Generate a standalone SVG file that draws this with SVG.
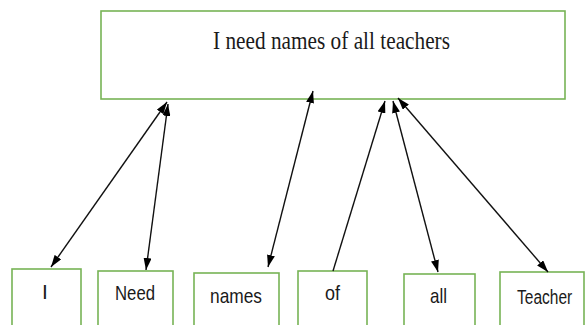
<svg xmlns="http://www.w3.org/2000/svg" width="586" height="325" viewBox="0 0 586 325">
<style>
.box{fill:#fff;stroke:#77b355;stroke-width:1.6}
.lbl{font-family:"Liberation Sans",Arial,sans-serif;font-size:21px;fill:#1a1a1a}
.ttl{font-family:"Liberation Serif","Times New Roman",serif;font-size:26px;fill:#1a1a1a}
.conn{stroke:#111;stroke-width:1.4;fill:none}
</style>
<defs>
<marker id="ah" viewBox="0 0 12 8" refX="12" refY="4" markerWidth="12" markerHeight="8" markerUnits="userSpaceOnUse" orient="auto-start-reverse">
<path d="M0,0 L12,4 L0,8 Z" fill="#000"/>
</marker>
</defs>
<rect width="586" height="325" fill="#fff"/>
<g id="sentence">
<rect class="box" x="101" y="11" width="464" height="88"/>
<text class="ttl" x="213" y="49" textLength="237" lengthAdjust="spacingAndGlyphs">I need names of all teachers</text>
</g>
<g id="w-I">
<rect class="box" x="12" y="269" width="69" height="70"/>
<text class="lbl" x="45" y="299" text-anchor="middle">I</text>
</g>
<g id="w-Need">
<rect class="box" x="98" y="271" width="75" height="70"/>
<text class="lbl" x="115" y="300" textLength="40" lengthAdjust="spacingAndGlyphs">Need</text>
</g>
<g id="w-names">
<rect class="box" x="194" y="273" width="85" height="70"/>
<text class="lbl" x="210" y="303" textLength="52" lengthAdjust="spacingAndGlyphs">names</text>
</g>
<g id="w-of">
<rect class="box" x="298" y="271" width="69" height="70"/>
<text class="lbl" x="325" y="300" textLength="15" lengthAdjust="spacingAndGlyphs">of</text>
</g>
<g id="w-all">
<rect class="box" x="404" y="274" width="71" height="70"/>
<text class="lbl" x="430" y="303" textLength="17" lengthAdjust="spacingAndGlyphs">all</text>
</g>
<g id="w-Teacher">
<rect class="box" x="500" y="272" width="84" height="70"/>
<text class="lbl" transform="translate(517,304) scale(0.74,1)" x="0" y="0">Teacher</text>
</g>
<g id="connectors">
<line class="conn" x1="51" y1="267" x2="167" y2="102" marker-start="url(#ah)" marker-end="url(#ah)"/>
<line class="conn" x1="146" y1="270" x2="168" y2="104" marker-start="url(#ah)" marker-end="url(#ah)"/>
<line class="conn" x1="268" y1="267" x2="313" y2="91" marker-start="url(#ah)" marker-end="url(#ah)"/>
<line class="conn" x1="333" y1="271" x2="385" y2="101" marker-end="url(#ah)"/>
<line class="conn" x1="438" y1="272" x2="393" y2="101" marker-start="url(#ah)" marker-end="url(#ah)"/>
<line class="conn" x1="548" y1="272" x2="398" y2="98" marker-start="url(#ah)" marker-end="url(#ah)"/>
</g>
</svg>
